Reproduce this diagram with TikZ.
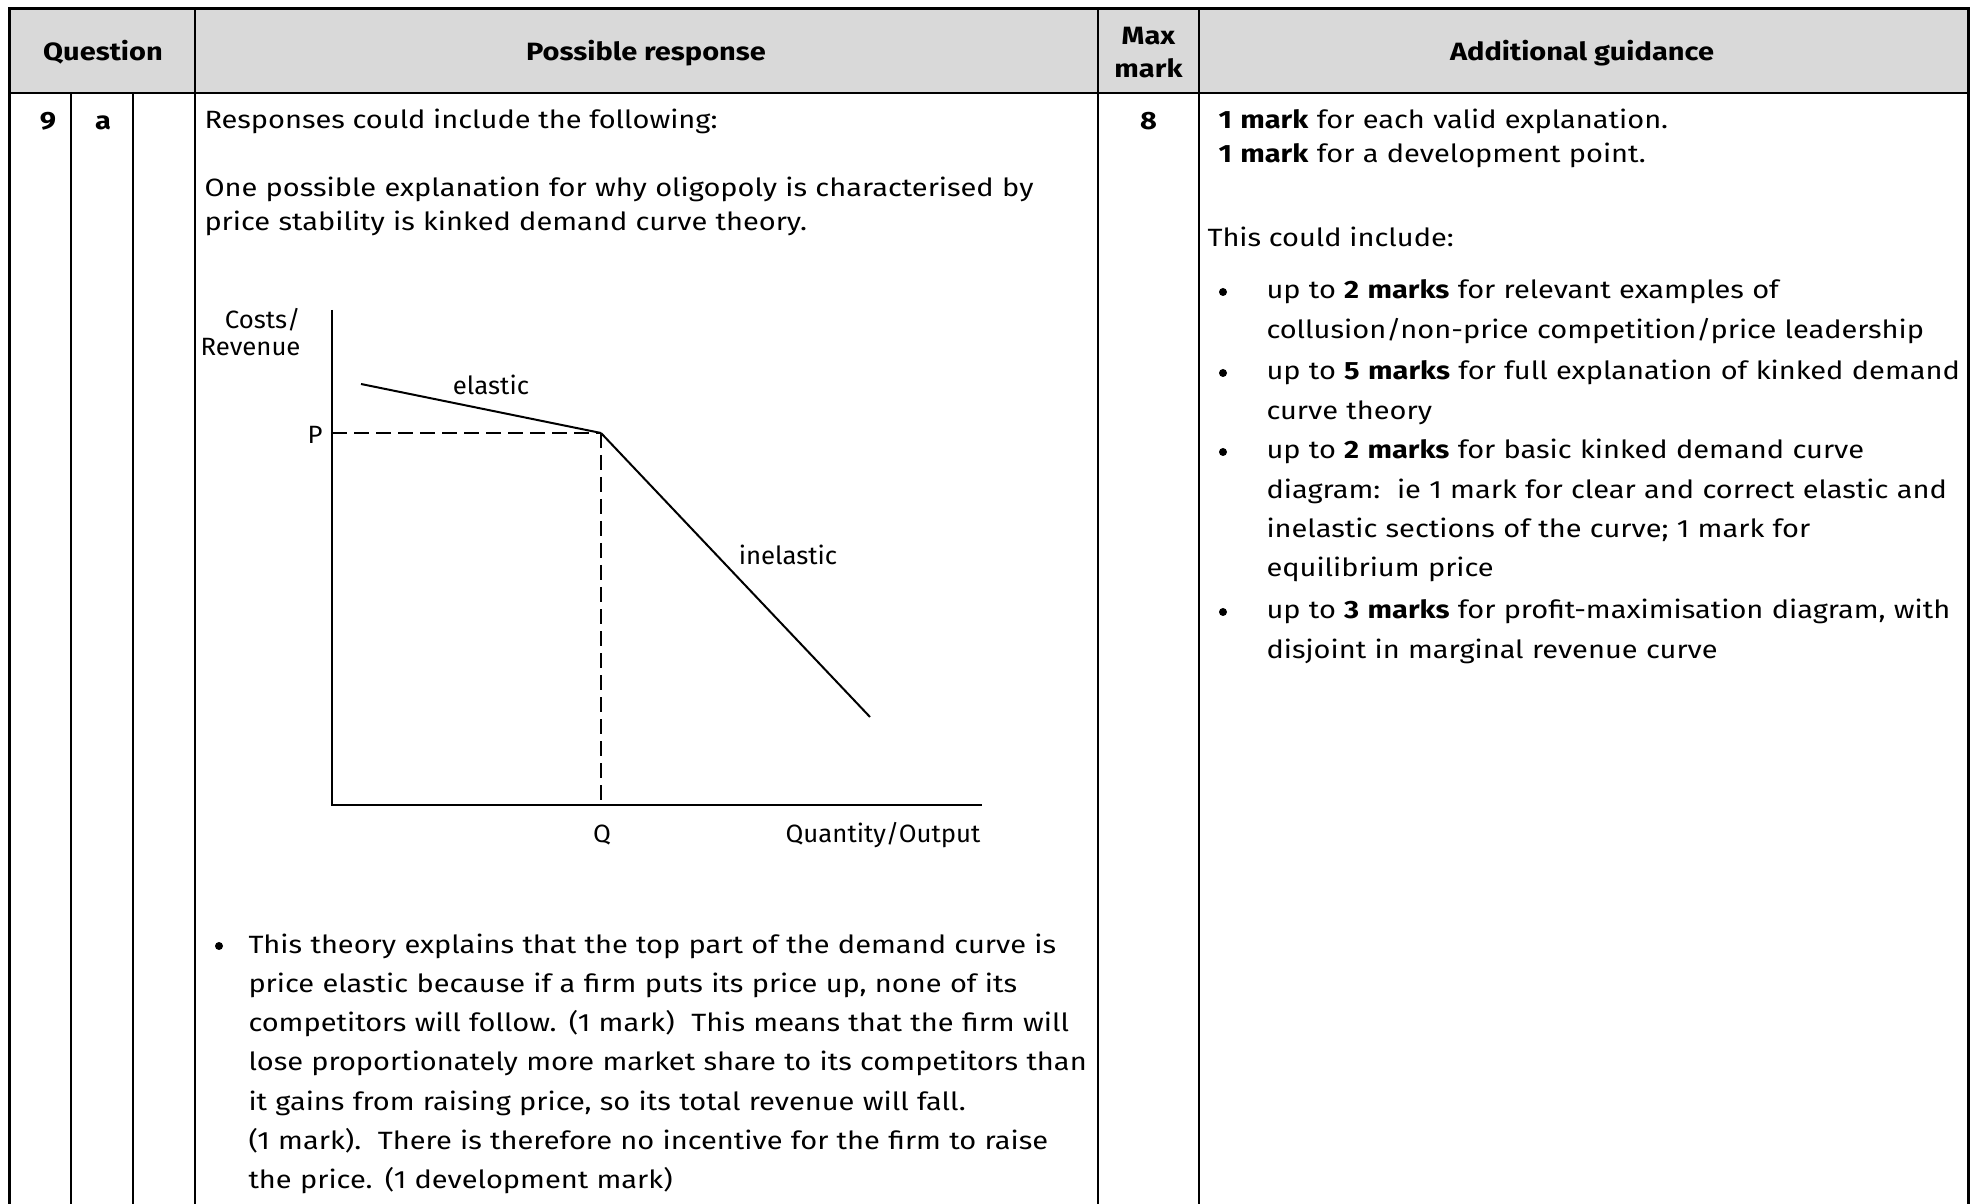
\documentclass[tikz,border=0pt]{standalone}
\usepackage{fontspec}
\setmainfont{Fira Sans}[FakeStretch=1.16]
\newfontfamily\plotfont{Fira Sans}[FakeStretch=1.03]
\usetikzlibrary{positioning}
\definecolor{headgray}{RGB}{217,217,217}
\tikzset{
  headtext/.style={font=\fontsize{10}{13.2}\selectfont\bfseries, inner sep=0pt, anchor=base},
  celltext/.style={font=\fontsize{10}{13.6}\selectfont, inner sep=0pt, anchor=base west, align=left},
  listtext/.style={font=\fontsize{10}{15.7}\selectfont, inner sep=0pt, anchor=base west, align=left},
  bulletmark/.style={circle, fill=black, inner sep=0pt, minimum size=3.2pt},
  plotlabel/.style={font=\plotfont\fontsize{10}{10.8}\selectfont, inner sep=0pt, anchor=base},
  innerrule/.style={line width=0.8pt},
  outerrule/.style={line width=1.2pt},
  axisline/.style={line width=1pt},
  demandline/.style={line width=0.8pt},
  guideline/.style={line width=0.45pt, dash pattern=on 6pt off 2.8pt}
}
\begin{document}
\begin{tikzpicture}[x=0.4pt, y=-0.4pt]
\useasboundingbox (0,0) rectangle (1975,1204);

% table
\fill[headgray] (9,9) rectangle (1968,93);
\draw[innerrule] (9,93) -- (1968,93);
\draw[innerrule] (71,93) -- (71,1204);
\draw[innerrule] (133,93) -- (133,1204);
\draw[innerrule] (195,9) -- (195,1204);
\draw[innerrule] (1098,9) -- (1098,1204);
\draw[innerrule] (1199,9) -- (1199,1204);
\draw[outerrule] (9,1204) -- (9,9) -- (1968,9) -- (1968,1204);

\node (qhead) [headtext] at (103,61) {Question};
\node (resphead) [headtext] at (646,61) {Possible response};
\node (maxhead) [headtext] at (1148.5,45) {Max};
\node (markhead) [headtext] at (1148.5,78) {mark};
\node (guidehead) [headtext] at (1582,61) {Additional guidance};

\node (qnum) [headtext] at (48,130) {9};
\node (qpart) [headtext] at (103,130) {a};
\node (maxmark) [headtext] at (1148.5,130) {8};

% possible response
\node (intro) [celltext] at (204,129) {Responses could include the following:};
\node (explain) [celltext, text width=380pt] at (204,197)
  {One possible explanation for why oligopoly is characterised by\\
   price stability is kinked demand curve theory.};

% kinked demand curve
\coordinate (origin) at (332,805);
\coordinate (ytop) at (332,310);
\coordinate (xend) at (982,805);
\coordinate (kink) at (601,433);
\coordinate (pmark) at (332,433);
\coordinate (qmark) at (601,805);
\coordinate (elasticstart) at (361,384);
\coordinate (inelasticend) at (870,717);

\draw[guideline] (pmark) -- (kink);
\draw[guideline] (kink) -- (qmark);
\draw[axisline] (ytop) -- (origin) -- (xend);
\draw[demandline] (elasticstart) -- (kink);
\draw[demandline] (kink) -- (inelasticend);

\node (ylabel) [plotlabel, anchor=base east, align=right] at (301,356) {Costs/\\Revenue};
\node (plabel) [plotlabel] at (315,444) {P};
\node (qlabel) [plotlabel] at (602,843) {Q};
\node (xlabel) [plotlabel, anchor=base east] at (981,843) {Quantity/Output};
\node (elasticlabel) [plotlabel] at (491,395) {elastic};
\node (inelasticlabel) [plotlabel] at (788,565) {inelastic};

\node (dotA) [bulletmark] at (219,946) {};
\node (theory) [listtext, text width=400pt] at (248,953)
  {This theory explains that the top part of the demand curve is\\
   price elastic because if a firm puts its price up, none of its\\
   competitors will follow. (1 mark)\ \ This means that the firm will\\
   lose proportionately more market share to its competitors than\\
   it gains from raising price, so its total revenue will fall.\\
   (1 mark).\ \ There is therefore no incentive for the firm to raise\\
   the price. (1 development mark)};

% additional guidance
\node (marks) [celltext, text width=320pt] at (1218,129)
  {\textbf{1 mark} for each valid explanation.\\
   \textbf{1 mark} for a development point.};
\node (include) [celltext] at (1207,247) {This could include:};

\node (dotB) [bulletmark] at (1223,292) {};
\node (itemB) [listtext, text width=320pt] at (1266,299)
  {up to \textbf{2 marks} for relevant examples of\\
   collusion/non-price competition/price leadership};
\node (dotC) [bulletmark] at (1223,373) {};
\node (itemC) [listtext, text width=320pt] at (1266,380)
  {up to \textbf{5 marks} for full explanation of kinked demand\\
   curve theory};
\node (dotD) [bulletmark] at (1223,452) {};
\node (itemD) [listtext, text width=320pt] at (1266,459)
  {up to \textbf{2 marks} for basic kinked demand curve\\
   diagram:\ \ ie 1 mark for clear and correct elastic and\\
   inelastic sections of the curve; 1 mark for\\
   equilibrium price};
\node (dotE) [bulletmark] at (1223,612) {};
\node (itemE) [listtext, text width=320pt] at (1266,619)
  {up to \textbf{3 marks} for profit-maximisation diagram, with\\
   disjoint in marginal revenue curve};
\end{tikzpicture}
\end{document}
